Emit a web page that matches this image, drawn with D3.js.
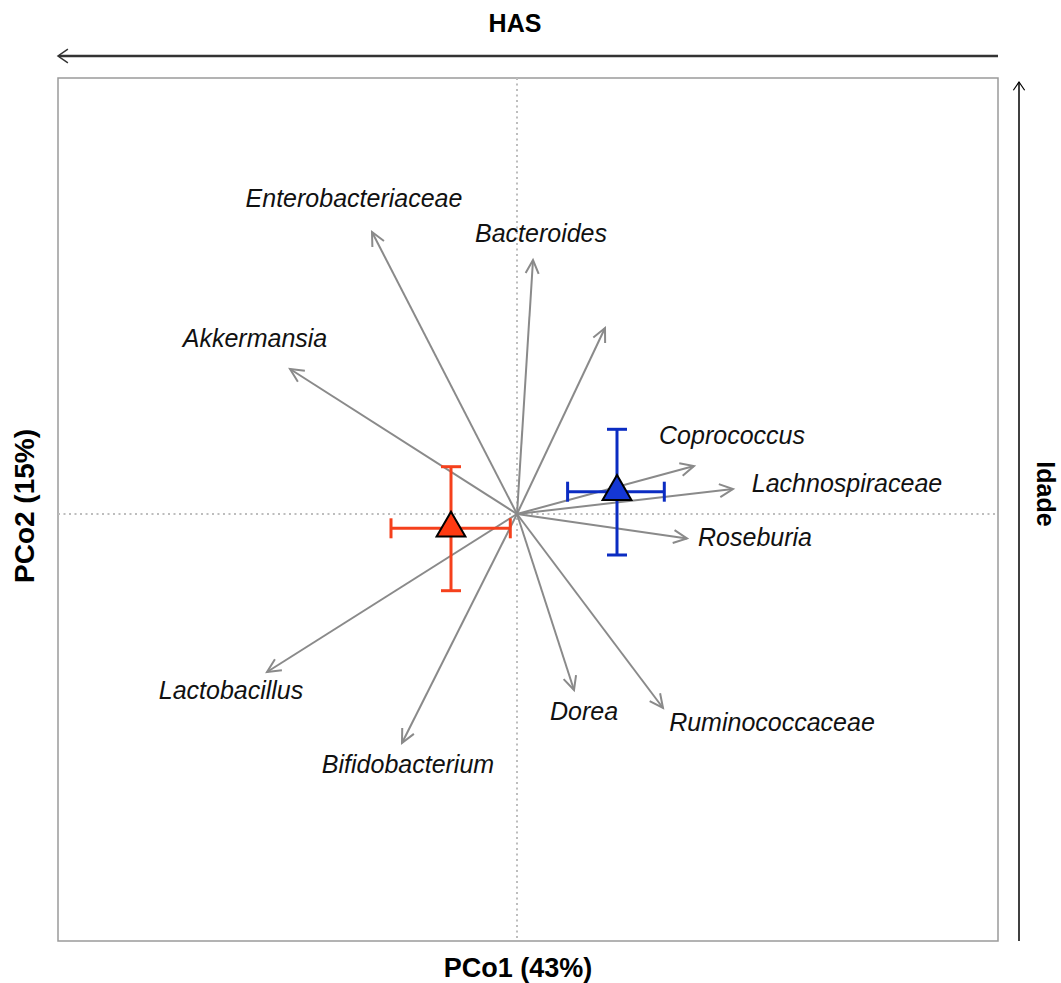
<!DOCTYPE html>
<html>
  <head>
    <meta charset="utf-8">
    <title>PCoA biplot</title>
    <script src="https://cdn.jsdelivr.net/npm/d3@7"></script>
    <style>
      body { margin: 0; background: #fff; }
      svg { display: block; font-family: "Liberation Sans", Arial, sans-serif; }
      .taxon { font-style: italic; font-size: 25px; fill: #111; }
      .title { font-weight: bold; fill: #000; }
    </style>
  </head>
  <body>
    <svg id="chart" width="1061" height="983"></svg>

    <script>
      // taxa loading vectors (PCo1, PCo2)
      taxa = ["Enterobacteriaceae", "Bacteroides", "", "Akkermansia", "Coprococcus", "Lachnospiraceae",
              "Roseburia", "Ruminococcaceae", "Dorea", "Bifidobacterium", "Lactobacillus"];
      vecX = [-1.45, 0.16, 0.88, -2.27, 1.77, 2.16, 1.70, 1.46, 0.57, -1.15, -2.50];
      vecY = [2.82, 2.54, 1.86, 1.45, 0.48, 0.25, -0.245, -1.94, -1.76, -2.29, -1.58];
      // where each taxon name sits
      labX = [-1.63, 0.24, 0, -2.62, 2.15, 3.30, 2.38, 2.55, 0.67, -1.09, -2.86];
      labY = [3.16, 2.81, 0, 1.755, 0.79, 0.31, -0.23, -2.08, -1.97, -2.50, -1.76];

      // group centroids with spread
      groups = ["red", "blue"];
      meanX = [-0.66, 1.00];
      meanY = [-0.143, 0.223];
      lowX = [-1.26, 0.506];
      highX = [-0.067, 1.473];
      lowY = [-0.767, -0.41];
      highY = [0.473, 0.847];
      barColours = ["#f5401c", "#0b2cc2"];
      fillColours = ["#ff3a12", "#1437d4"];

      // page elements
      svg = d3.select("#chart");
      box = { left: 58, top: 78, right: 998, bottom: 941 };

      x = d3.scaleLinear().domain([-4.59, 4.81]).range([box.left, box.right]);
      y = d3.scaleLinear().domain([-4.27, 4.36]).range([box.bottom, box.top]);

      // frame
      svg.append("rect")
        .attr("x", box.left)
        .attr("y", box.top)
        .attr("width", box.right - box.left)
        .attr("height", box.bottom - box.top)
        .attr("fill", "none")
        .attr("stroke", "#9a9a9a")
        .attr("stroke-width", 1.5);

      // zero lines
      svg.append("line")
        .attr("x1", x(0)).attr("x2", x(0))
        .attr("y1", box.top).attr("y2", box.bottom)
        .attr("stroke", "#bdbdbd").attr("stroke-width", 2)
        .attr("stroke-dasharray", "2,3.5");
      svg.append("line")
        .attr("x1", box.left).attr("x2", box.right)
        .attr("y1", y(0)).attr("y2", y(0))
        .attr("stroke", "#bdbdbd").attr("stroke-width", 2)
        .attr("stroke-dasharray", "2,3.5");

      // vectors with open heads
      function head(x0, y0, x1, y1, len, ang) {
        a = Math.atan2(y1 - y0, x1 - x0);
        return "M" + (x1 - len * Math.cos(a - ang)) + "," + (y1 - len * Math.sin(a - ang)) +
          "L" + x1 + "," + y1 +
          "L" + (x1 - len * Math.cos(a + ang)) + "," + (y1 - len * Math.sin(a + ang));
      }

      vectors = svg.append("g")
        .attr("stroke", "#8a8a8a")
        .attr("stroke-width", 2)
        .attr("fill", "none");
      taxa.forEach(function(d, i) {
        vectors.append("line")
          .attr("x1", x(0)).attr("y1", y(0))
          .attr("x2", x(vecX[i])).attr("y2", y(vecY[i]));
        vectors.append("path")
          .attr("d", head(x(0), y(0), x(vecX[i]), y(vecY[i]), 15, 0.45));
      });

      svg.append("g").selectAll("text")
        .data(taxa.filter(function(d) { return d !== ""; }))
        .enter().append("text")
          .classed("taxon", true)
          .attr("text-anchor", "middle")
          .attr("dy", "0.35em")
          .attr("x", function(d) { return x(labX[taxa.indexOf(d)]); })
          .attr("y", function(d) { return y(labY[taxa.indexOf(d)]); })
          .text(function(d) { return d; });

      // group error bars and triangles
      cap = 10;
      groups.forEach(function(g, i) {
        bars = svg.append("g")
          .attr("stroke", barColours[i])
          .attr("stroke-width", 3);
        bars.append("line")
          .attr("x1", x(lowX[i])).attr("x2", x(highX[i]))
          .attr("y1", y(meanY[i])).attr("y2", y(meanY[i]));
        bars.append("line")
          .attr("x1", x(meanX[i])).attr("x2", x(meanX[i]))
          .attr("y1", y(lowY[i])).attr("y2", y(highY[i]));
        [lowX[i], highX[i]].forEach(function(v) {
          bars.append("line")
            .attr("x1", x(v)).attr("x2", x(v))
            .attr("y1", y(meanY[i]) - cap).attr("y2", y(meanY[i]) + cap);
        });
        [lowY[i], highY[i]].forEach(function(v) {
          bars.append("line")
            .attr("x1", x(meanX[i]) - cap).attr("x2", x(meanX[i]) + cap)
            .attr("y1", y(v)).attr("y2", y(v));
        });
        svg.append("path")
          .attr("d", d3.symbol().type(d3.symbolTriangle).size(360)())
          .attr("transform", "translate(" + x(meanX[i]) + "," + y(meanY[i]) + ")")
          .attr("fill", fillColours[i])
          .attr("stroke", "#000")
          .attr("stroke-width", 2)
          .attr("stroke-linejoin", "miter");
      });

      // axis titles
      svg.append("text")
        .classed("title", true)
        .attr("x", 518).attr("y", 968)
        .attr("text-anchor", "middle")
        .attr("dy", "0.35em")
        .style("font-size", "27px")
        .text("PCo1 (43%)");
      svg.append("text")
        .classed("title", true)
        .attr("transform", "translate(24,506) rotate(-90)")
        .attr("text-anchor", "middle")
        .attr("dy", "0.35em")
        .style("font-size", "28px")
        .text("PCo2 (15%)");

      // gradient arrows
      svg.append("text")
        .classed("title", true)
        .attr("x", 515).attr("y", 23)
        .attr("text-anchor", "middle")
        .attr("dy", "0.35em")
        .style("font-size", "25px")
        .text("HAS");
      svg.append("line")
        .attr("x1", box.right).attr("x2", box.left + 1)
        .attr("y1", 56).attr("y2", 56)
        .attr("stroke", "#333").attr("stroke-width", 2.5);
      svg.append("path")
        .attr("d", head(box.right, 56, box.left, 56, 12, 0.6))
        .attr("fill", "none").attr("stroke", "#333").attr("stroke-width", 1.5);

      svg.append("line")
        .attr("x1", 1019).attr("x2", 1019)
        .attr("y1", box.bottom).attr("y2", 82)
        .attr("stroke", "#000").attr("stroke-width", 1.5);
      svg.append("path")
        .attr("d", head(1019, box.bottom, 1019, 82, 10, 0.6))
        .attr("fill", "none").attr("stroke", "#000").attr("stroke-width", 1.2);
      svg.append("text")
        .classed("title", true)
        .attr("transform", "translate(1046,494) rotate(90)")
        .attr("text-anchor", "middle")
        .attr("dy", "0.35em")
        .style("font-size", "25px")
        .text("Idade");
    </script>
  </body>
</html>
